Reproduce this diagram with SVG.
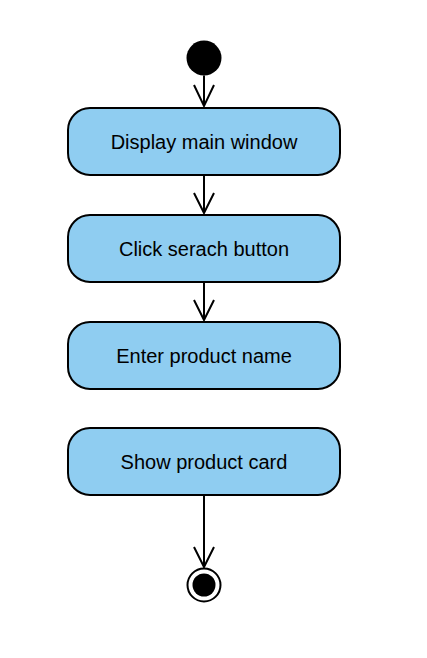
<svg xmlns="http://www.w3.org/2000/svg" width="427" height="658" viewBox="0 0 427 658">
<style>
.node rect{fill:#8fcdf1;stroke:#000;stroke-width:2}
.node text{font-family:"Liberation Sans",Arial,sans-serif;font-size:20px;fill:#000;text-anchor:middle;dominant-baseline:central}
.edge{stroke:#000;stroke-width:2;fill:none}
</style>
<rect width="427" height="658" fill="#fff"/>
<g id="start"><circle cx="204" cy="58" r="17.5" fill="#000"/></g>
<g id="n1" class="node"><rect x="68" y="108" width="272" height="67" rx="22"/><text x="204" y="142">Display main window</text></g>
<g id="n2" class="node"><rect x="68" y="215" width="272" height="67" rx="22"/><text x="204" y="249">Click serach button</text></g>
<g id="n3" class="node"><rect x="68" y="322" width="272" height="67" rx="22"/><text x="204" y="356">Enter product name</text></g>
<g id="n4" class="node"><rect x="68" y="428" width="272" height="67" rx="22"/><text x="204" y="462">Show product card</text></g>
<g id="end"><circle cx="204" cy="585" r="16.5" fill="#fff" stroke="#000" stroke-width="2"/><circle cx="204" cy="585" r="11.5" fill="#000"/></g>
<g id="connectors">
<path class="edge" d="M204 75.5V106M194 85L204 106L214 85"/>
<path class="edge" d="M204 175V213M194 193L204 213L214 193"/>
<path class="edge" d="M204 282V320M194 300L204 320L214 300"/>
<path class="edge" d="M204 495V567M194 547L204 567L214 547"/>
</g>
</svg>
